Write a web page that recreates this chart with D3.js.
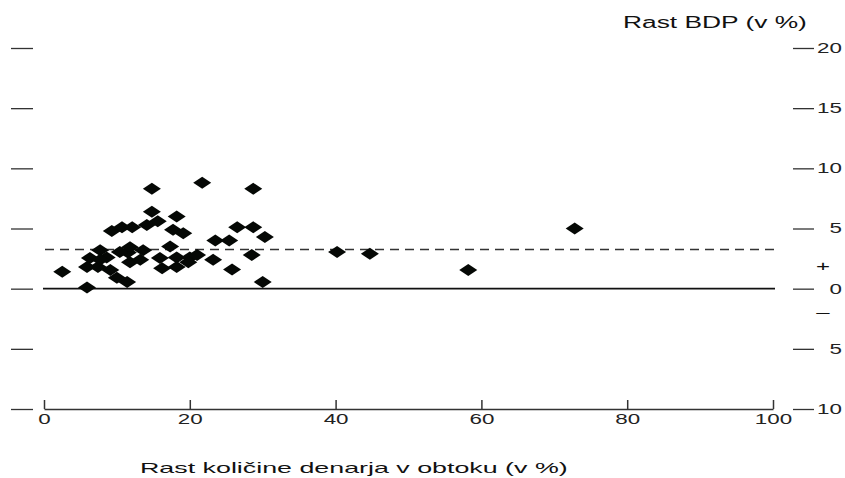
<!DOCTYPE html>
<html>
<head>
<meta charset="utf-8">
<script src="https://cdn.jsdelivr.net/npm/d3@7"></script>
<style>
  body { margin: 0; background: #fff; }
  svg text { font-family: "Liberation Sans", Arial, sans-serif; fill: #111; }
</style>
</head>
<body>
<div id="chart"></div>
<script>
// money growth (x) vs GDP growth (y), in %
const moneyGrowth = [2.5, 5.9, 11.4, 30.0, 14.8, 21.7, 28.7, 14.8, 18.2, 15.6,
    14.1, 9.3, 10.7, 12.1, 17.7, 19.1, 23.5, 25.4, 26.5, 28.7,
    30.3, 28.5, 23.2, 25.8, 17.3, 15.9, 18.2, 20.0, 21.0, 16.2,
    18.2, 19.8, 7.7, 6.3, 5.9, 7.4, 9.1, 10.0, 11.5, 11.8,
    13.2, 8.6, 10.4, 11.8, 7.7, 40.2, 44.7, 58.2, 72.8, 13.6];
const gdpGrowth = [1.4, 0.1, 0.55, 0.55, 8.3, 8.8, 8.3, 6.4, 6.0, 5.6,
    5.3, 4.8, 5.1, 5.1, 4.9, 4.6, 4.0, 4.0, 5.1, 5.1,
    4.3, 2.8, 2.4, 1.6, 3.5, 2.55, 2.6, 2.6, 2.8, 1.7,
    1.8, 2.2, 3.2, 2.55, 1.8, 1.8, 1.55, 0.9, 3.0, 2.2,
    2.4, 2.6, 3.05, 3.45, 2.4, 3.05, 2.9, 1.55, 5.0, 3.2];
const xTicks = [0, 20, 40, 60, 80, 100];
const yTicks = [-10, -5, 0, 5, 10, 15, 20];
const avgGrowth = 3.25;
const xTitle = "Rast količine denarja v obtoku (v %)";
const yTitle = "Rast BDP (v %)";

const width = 845, height = 478;
const stretch = 1.6;

const svg = d3.select("#chart").append("svg")
    .attr("width", width)
    .attr("height", height);

const x = d3.scaleLinear().domain([0, 100]).range([44, 773]);
const y = d3.scaleLinear().domain([-10, 20]).range([409, 48]);

// left dashes
const left = svg.append("g")
    .attr("transform", "translate(33,0)")
    .call(d3.axisLeft(y).tickValues(yTicks).tickSize(22).tickFormat(""));
left.select(".domain").remove();
left.selectAll("line").attr("stroke", "#333").attr("stroke-width", 1.3);

// right axis
const right = svg.append("g")
    .attr("transform", "translate(793,0)")
    .call(d3.axisRight(y).tickValues(yTicks).tickSize(21).tickFormat(d => Math.abs(d)));
right.select(".domain").remove();
right.selectAll("line").attr("stroke", "#333").attr("stroke-width", 1.3);
right.selectAll("text")
    .attr("x", 0)
    .attr("text-anchor", "end")
    .attr("transform", `translate(49,0) scale(${stretch},1)`)
    .style("font-size", "14px")
    .style("fill", "#222");

// + / - markers
svg.append("text")
    .attr("transform", `translate(823,${y(1.9)}) scale(${stretch},1)`)
    .attr("text-anchor", "middle")
    .attr("dy", "0.35em")
    .style("font-size", "15px")
    .text("+");
svg.append("text")
    .attr("transform", `translate(823,${y(-1.95)}) scale(${stretch},1)`)
    .attr("text-anchor", "middle")
    .attr("dy", "0.35em")
    .style("font-size", "15px")
    .text("–");

// bottom axis
const bottom = svg.append("g")
    .attr("transform", `translate(0,${y(-10)})`)
    .call(d3.axisBottom(x).tickValues(xTicks).tickSizeInner(-9).tickSizeOuter(0).tickPadding(5));
bottom.select(".domain").attr("stroke", "#333").attr("stroke-width", 1.5);
bottom.selectAll("line").attr("stroke", "#333").attr("stroke-width", 1.5);
bottom.selectAll("text")
    .attr("transform", `scale(${stretch},1)`)
    .style("font-size", "14px")
    .style("fill", "#222");

// zero line
svg.append("line")
    .attr("x1", x(0) - 1).attr("x2", x(100) + 2)
    .attr("y1", y(0)).attr("y2", y(0))
    .attr("stroke", "#111")
    .attr("stroke-width", 1.6);

// average line
svg.append("line")
    .attr("x1", x(0) + 1).attr("x2", x(100) + 2)
    .attr("y1", y(avgGrowth)).attr("y2", y(avgGrowth))
    .attr("stroke", "#333")
    .attr("stroke-width", 1.5)
    .attr("stroke-dasharray", "9,6");

// points
const diamond = "M0,-6L9,0L0,6L-9,0Z";
svg.append("g")
    .selectAll("path")
    .data(moneyGrowth.map((v, i) => [v, gdpGrowth[i]]))
    .join("path")
    .attr("d", diamond)
    .attr("transform", d => `translate(${x(d[0])},${y(d[1])})`)
    .attr("fill", "#050805");

// titles, stretched to the width they have in the picture
function fitText(sel, w) {
    const len = sel.node().getComputedTextLength();
    return w / len;
}

const t1 = svg.append("text")
    .style("font-size", "16px")
    .text(yTitle);
const s1 = fitText(t1, 184);
t1.attr("transform", `translate(623,28) scale(${s1},1)`);

const t2 = svg.append("text")
    .style("font-size", "15px")
    .text(xTitle);
const s2 = fitText(t2, 428);
t2.attr("transform", `translate(140,473) scale(${s2},1)`);
</script>
</body>
</html>
